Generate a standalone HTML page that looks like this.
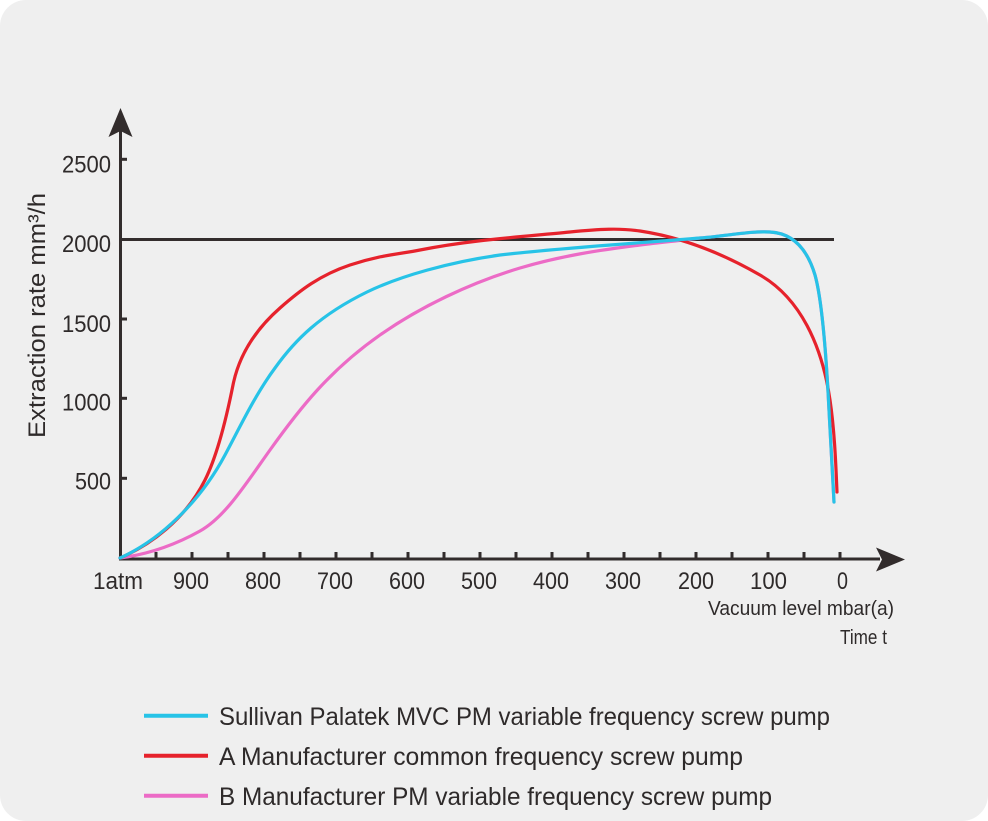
<!DOCTYPE html>
<html>
<head>
<meta charset="utf-8">
<style>
  html, body { margin:0; padding:0; background:#ffffff; }
  body { width:988px; height:821px; overflow:hidden; }
  svg { display:block; }
  text { font-family: "Liberation Sans", "Noto Sans CJK SC", sans-serif; fill:#2e2a2a; }
</style>
</head>
<body>
<svg width="988" height="821" viewBox="0 0 988 821" xmlns="http://www.w3.org/2000/svg">
  <rect x="0" y="0" width="988" height="821" rx="26" ry="26" fill="#efefef"/>

  <!-- 2000 reference line -->
  <line x1="120" y1="239.5" x2="834" y2="239.5" stroke="#332d2d" stroke-width="3"/>

  <!-- Y axis -->
  <line x1="120.5" y1="128" x2="120.5" y2="560.5" stroke="#322c2c" stroke-width="3"/>
  <polygon points="120.5,108 132.5,137 120.5,131 108.5,137" fill="#322c2c"/>
  <!-- Y ticks -->
  <g stroke="#322c2c" stroke-width="3">
    <line x1="120" y1="159.3" x2="127" y2="159.3"/>
    <line x1="120" y1="319" x2="127" y2="319"/>
    <line x1="120" y1="398.3" x2="127" y2="398.3"/>
    <line x1="120" y1="478.3" x2="127" y2="478.3"/>
  </g>

  <!-- X axis -->
  <line x1="119" y1="559" x2="880" y2="559" stroke="#322c2c" stroke-width="3"/>
  <polygon points="905,559.5 876,547.5 882,559.5 876,571.5" fill="#322c2c"/>
  <!-- X ticks -->
  <g stroke="#322c2c" stroke-width="3">
    <line x1="156" y1="552" x2="156" y2="559"/>
    <line x1="192" y1="552" x2="192" y2="559"/>
    <line x1="228" y1="552" x2="228" y2="559"/>
    <line x1="264" y1="552" x2="264" y2="559"/>
    <line x1="300" y1="552" x2="300" y2="559"/>
    <line x1="336" y1="552" x2="336" y2="559"/>
    <line x1="372" y1="552" x2="372" y2="559"/>
    <line x1="408" y1="552" x2="408" y2="559"/>
    <line x1="444" y1="552" x2="444" y2="559"/>
    <line x1="480" y1="552" x2="480" y2="559"/>
    <line x1="516" y1="552" x2="516" y2="559"/>
    <line x1="552" y1="552" x2="552" y2="559"/>
    <line x1="588" y1="552" x2="588" y2="559"/>
    <line x1="624" y1="552" x2="624" y2="559"/>
    <line x1="660" y1="552" x2="660" y2="559"/>
    <line x1="696" y1="552" x2="696" y2="559"/>
    <line x1="732" y1="552" x2="732" y2="559"/>
    <line x1="768" y1="552" x2="768" y2="559"/>
    <line x1="804" y1="552" x2="804" y2="559"/>
    <line x1="840" y1="552" x2="840" y2="559"/>
  </g>

  <!-- Y labels -->
  <g font-size="24">
    <text x="62" y="172.5" textLength="49" lengthAdjust="spacingAndGlyphs">2500</text>
    <text x="62" y="252" textLength="49" lengthAdjust="spacingAndGlyphs">2000</text>
    <text x="62" y="332" textLength="49" lengthAdjust="spacingAndGlyphs">1500</text>
    <text x="62" y="410.5" textLength="49" lengthAdjust="spacingAndGlyphs">1000</text>
    <text x="75" y="489.5" textLength="36" lengthAdjust="spacingAndGlyphs">500</text>
  </g>

  <!-- Y title -->
  <text transform="translate(45,438) rotate(-90)" font-size="24" textLength="245" lengthAdjust="spacingAndGlyphs">Extraction rate mm³/h</text>

  <!-- X labels -->
  <g font-size="24">
    <text x="93" y="589" textLength="50" lengthAdjust="spacingAndGlyphs">1atm</text>
    <text x="173" y="589" textLength="36" lengthAdjust="spacingAndGlyphs">900</text>
    <text x="245" y="589" textLength="36" lengthAdjust="spacingAndGlyphs">800</text>
    <text x="317" y="589" textLength="36" lengthAdjust="spacingAndGlyphs">700</text>
    <text x="389" y="589" textLength="36" lengthAdjust="spacingAndGlyphs">600</text>
    <text x="461" y="589" textLength="36" lengthAdjust="spacingAndGlyphs">500</text>
    <text x="533" y="589" textLength="36" lengthAdjust="spacingAndGlyphs">400</text>
    <text x="605" y="589" textLength="36" lengthAdjust="spacingAndGlyphs">300</text>
    <text x="678" y="589" textLength="36" lengthAdjust="spacingAndGlyphs">200</text>
    <text x="750" y="589" textLength="37" lengthAdjust="spacingAndGlyphs">100</text>
    <text x="837" y="589" textLength="11" lengthAdjust="spacingAndGlyphs">0</text>
  </g>
  <text x="708" y="615" font-size="20.5" textLength="186" lengthAdjust="spacingAndGlyphs">Vacuum level mbar(a)</text>
  <text x="840" y="644" font-size="20.5" textLength="47" lengthAdjust="spacingAndGlyphs">Time t</text>

  <!-- Curves -->
  <g fill="none" stroke-width="3.2" stroke-linecap="round" stroke-linejoin="round">
    <!-- Magenta -->
    <path stroke="#ec6bc6" d="M120,558 C150,554 175,545 200,531 C225,517 245,485 270,450 C300,408 330,370 380,335 C420,307 470,283 520,268 C560,256 600,250 640,245 C665,242 685,240 700,238 C730,235.5 750,231 770,232 C790,233 806,245 815,275 C822,300 826,350 829,410 C831,450 833,480 834,502"/>
    <!-- Red -->
    <path stroke="#e6222c" d="M120,558 C150,545 185,520 205,480 C218,454 228,410 233,385 C239,355 255,330 280,308 C300,290.4 320,275 350,265 C380,255 400,254 420,250 C470,240 520,237 570,232 C600,229 620,228 640,231 C680,237 720,252 760,275 C800,298 822,345 830,400 C835,434 836,470 837,492"/>
    <!-- Cyan -->
    <path stroke="#27c3e7" d="M120,558 C160,540 200,502 225,455 C240,427 255,395 275,368 C295,340 320,315 367,292 C400,276 450,262 500,255 C560,248 640,243 700,238 C730,235.5 750,231 770,232 C790,233 806,245 815,275 C822,300 826,350 829,410 C831,450 833,480 834,502"/>
  </g>

  <!-- Legend -->
  <g stroke-width="4">
    <line x1="144" y1="715.7" x2="208" y2="715.7" stroke="#27c3e7"/>
    <line x1="144" y1="755.7" x2="208" y2="755.7" stroke="#e6222c"/>
    <line x1="144" y1="795.7" x2="208" y2="795.7" stroke="#ec6bc6"/>
  </g>
  <g font-size="25">
    <text x="219" y="725" textLength="611" lengthAdjust="spacingAndGlyphs">Sullivan Palatek MVC PM variable frequency screw pump</text>
    <text x="219" y="765" textLength="524" lengthAdjust="spacingAndGlyphs">A Manufacturer common frequency screw pump</text>
    <text x="219" y="805" textLength="553" lengthAdjust="spacingAndGlyphs">B Manufacturer PM variable frequency screw pump</text>
  </g>
</svg>
</body>
</html>
